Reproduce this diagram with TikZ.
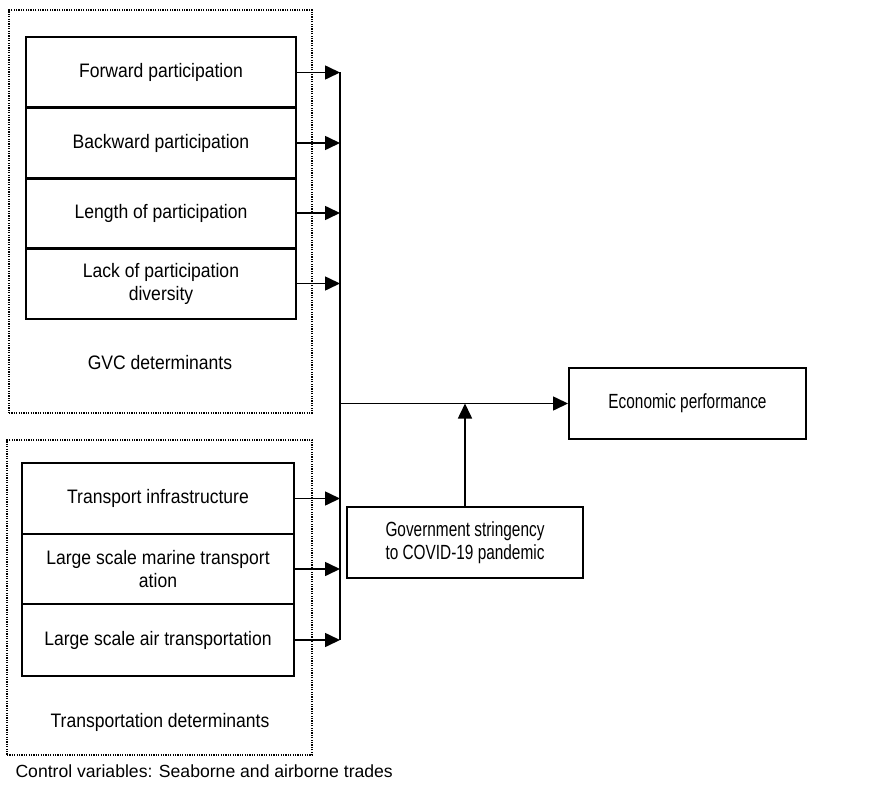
\documentclass[tikz,border=0pt]{standalone}
\usepackage{fontspec}
\setmainfont{Liberation Sans}
\newfontfamily\cellfont[FakeStretch=0.9]{Liberation Sans}
\newfontfamily\resultfont[FakeStretch=0.75]{Liberation Sans}
\usetikzlibrary{arrows.meta}
\begin{document}
\begin{tikzpicture}[
    x=1pt, y=-1pt,
    font=\cellfont\fontsize{19.5}{23}\selectfont,
    group/.style={rectangle, draw, dash pattern=on 1.2pt off 1.2pt, line width=1.4pt},
    cell/.style={rectangle, draw, line width=2pt, minimum width=270pt, minimum height=71pt, align=center, inner sep=2pt},
    result/.style={rectangle, draw, line width=2pt, align=center, font=\resultfont\fontsize{20.5}{23.5}\selectfont},
    arrow/.style={-{Triangle[length=15pt,width=14pt]}, line width=1.6pt}
]
    \useasboundingbox (0,0) rectangle (880,789);

    % determinant groups
    \node[group, minimum width=303pt, minimum height=403pt] (gvcgrp) at (160.5,211.5) {};
    \node[group, minimum width=305pt, minimum height=315pt] (trgrp) at (159.5,597.5) {};

    \node[cell] (fwd) at (161,72.5) {Forward participation};
    \node[cell] (bwd) at (161,143) {Backward participation};
    \node[cell] (len) at (161,213) {Length of participation};
    \node[cell] (lack) at (161,283.5) {Lack of participation\\diversity};
    \node (gvclabel) at (160,363) {GVC determinants};

    \node[cell, minimum width=272pt] (infra) at (158,498.5) {Transport infrastructure};
    \node[cell, minimum width=272pt, minimum height=70pt] (marine) at (158,569) {Large scale marine transport\\ation};
    \node[cell, minimum width=272pt, minimum height=72pt] (air) at (158,640) {Large scale air transportation};
    \node (trlabel) at (160,722) {Transportation determinants};

    \node[anchor=west, font=\fontsize{17.6}{22}\selectfont] (control) at (12,771) {Control variables: Seaborne and airborne trades};

    % outcome and moderator
    \node[result, minimum width=237pt, minimum height=71pt] (econ) at (687.5,403.5) {Economic performance};
    \node[result, minimum width=236pt, minimum height=71pt] (gov) at (465,542.5) {Government stringency\\to COVID-19 pandemic};

    \coordinate (bus) at (340,0);

    \draw[arrow] (fwd.east) -- (fwd.east -| bus);
    \draw[arrow] (bwd.east) -- (bwd.east -| bus);
    \draw[arrow] (len.east) -- (len.east -| bus);
    \draw[arrow] (lack.east) -- (lack.east -| bus);
    \draw[arrow] (infra.east) -- (infra.east -| bus);
    \draw[arrow] (marine.east) -- (marine.east -| bus);
    \draw[arrow] (air.east) -- (air.east -| bus);

    \draw[line width=1.6pt] (fwd.east -| bus) -- (air.east -| bus);
    \draw[arrow] (econ.west -| bus) -- (econ.west);
    \draw[arrow] (gov.north) -- (gov.north |- econ.west);
\end{tikzpicture}
\end{document}
